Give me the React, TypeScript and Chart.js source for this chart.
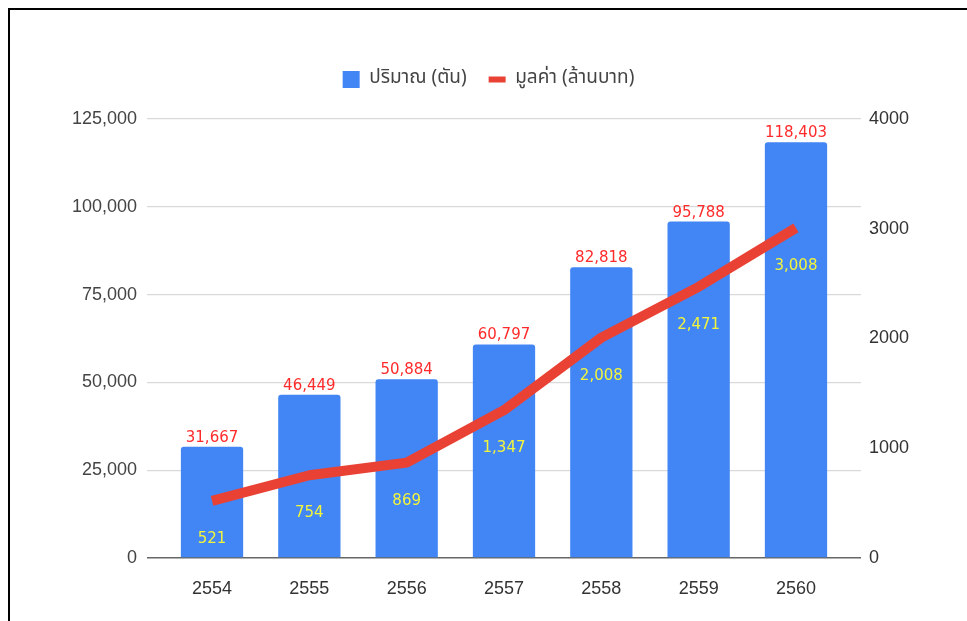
import React, { useEffect, useRef } from 'react';
import { Chart, registerables } from 'chart.js';

Chart.register(...registerables);

const categories = ['2554', '2555', '2556', '2557', '2558', '2559', '2560'];
const quantityTons = [31667, 46449, 50884, 60797, 82818, 95788, 118403];
const valueMillionBaht = [521, 754, 869, 1347, 2008, 2471, 3008];
const leftAxisRange = [0, 125000];
const leftAxisStep = 25000;
const rightAxisRange = [0, 4000];
const rightAxisStep = 1000;
const seriesNames = ['ปริมาณ (ตัน)', 'มูลค่า (ล้านบาท)'];

const BLUE = '#4285f4';
const RED = '#e94235';
const LABEL_RED = '#ff2b2b';
const LABEL_YELLOW = '#f2f53c';
const AXIS_FONT = '"Liberation Sans", Arial, sans-serif';
const LEGEND_FONT = 'Tahoma, "Noto Sans Thai", "Noto Sans", "DejaVu Sans", sans-serif';
const VALUE_FONT = '"DejaVu Sans", Verdana, sans-serif';

const fmt = (v: number) => v.toLocaleString('en-US');

const valueLabels = {
  id: 'valueLabels',
  afterDatasetsDraw(chart: any) {
    const ctx = chart.ctx;
    ctx.save();
    ctx.font = `15px ${VALUE_FONT}`;
    ctx.textAlign = 'center';
    const barMeta = chart.getDatasetMeta(0);
    ctx.fillStyle = LABEL_RED;
    ctx.textBaseline = 'alphabetic';
    barMeta.data.forEach((el: any, i: number) => {
      ctx.fillText(fmt(quantityTons[i]), el.x, el.y - 5);
    });
    const lineMeta = chart.getDatasetMeta(1);
    ctx.fillStyle = LABEL_YELLOW;
    ctx.textBaseline = 'middle';
    lineMeta.data.forEach((el: any, i: number) => {
      ctx.fillText(fmt(valueMillionBaht[i]), el.x, el.y + 38);
    });
    ctx.restore();
  },
};

const legendGap = {
  id: 'legendGap',
  beforeLayout(chart: any) {
    const lg: any = chart.legend;
    if (lg && !lg._gapPatched) {
      const fit = lg.fit;
      lg.fit = function () {
        fit.call(this);
        this.height += 20;
      };
      lg._gapPatched = true;
    }
  },
};

export default function App() {
  const ref = useRef<HTMLCanvasElement | null>(null);

  useEffect(() => {
    if (!ref.current) return;
    const n = categories.length;
    const chart = new Chart(ref.current, {
      type: 'bar',
      data: {
        labels: categories,
        datasets: [
          {
            type: 'bar',
            label: seriesNames[0],
            data: quantityTons.map((v, i) => ({ x: i, y: v })),
            backgroundColor: BLUE,
            borderRadius: 3,
            borderSkipped: 'start',
            categoryPercentage: 0.8,
            barPercentage: 0.8,
            yAxisID: 'y',
            order: 1,
          } as any,
          {
            type: 'line',
            label: seriesNames[1],
            data: valueMillionBaht.map((v, i) => ({ x: i, y: v })),
            borderColor: RED,
            backgroundColor: RED,
            borderWidth: 10,
            borderCapStyle: 'butt',
            borderJoinStyle: 'round',
            pointRadius: 0,
            pointHoverRadius: 0,
            tension: 0,
            yAxisID: 'y1',
            order: 0,
          } as any,
        ],
      },
      options: {
        responsive: false,
        animation: false,
        layout: { padding: { top: 38, left: 0, right: 0, bottom: 0 } },
        plugins: {
          tooltip: { enabled: false },
          legend: {
            display: true,
            position: 'top',
            labels: {
              usePointStyle: true,
              pointStyleWidth: 17,
              boxHeight: 17,
              padding: 22,
              color: '#444',
              font: { family: LEGEND_FONT, size: 19 },
              sort: (a: any, b: any) => a.datasetIndex - b.datasetIndex,
              generateLabels: (c: any) => {
                const items = (Chart as any).defaults.plugins.legend.labels.generateLabels(c);
                return items.map((it: any) =>
                  it.datasetIndex === 1
                    ? { ...it, pointStyle: 'line', lineWidth: 6, strokeStyle: RED, fillStyle: RED, lineCap: 'butt' }
                    : { ...it, pointStyle: 'rect', lineWidth: 0, fillStyle: BLUE, strokeStyle: BLUE }
                );
              },
            },
          },
        },
        scales: {
          x: {
            type: 'linear',
            offset: false,
            min: -0.668,
            max: n - 1 + 0.668,
            grid: { display: false, drawTicks: false, offset: false },
            border: { display: false },
            afterBuildTicks: (axis: any) => {
              axis.ticks = categories.map((_, i) => ({ value: i }));
            },
            afterFit: (axis: any) => {
              axis.height = 63;
            },
            ticks: {
              autoSkip: false,
              maxRotation: 0,
              padding: 20,
              color: '#333',
              font: { family: AXIS_FONT, size: 18 },
              callback: (v: any) => categories[Math.round(Number(v))] ?? '',
            },
          },
          y: {
            position: 'left',
            min: leftAxisRange[0],
            max: leftAxisRange[1],
            grid: {
              drawTicks: false,
              color: (ctx: any) => (ctx.tick && ctx.tick.value === 0 ? '#666' : '#d9d9d9'),
              lineWidth: (ctx: any) => (ctx.tick && ctx.tick.value === 0 ? 1.5 : 1.2),
            },
            border: { display: false },
            afterFit: (axis: any) => {
              axis.width = 137;
            },
            ticks: {
              stepSize: leftAxisStep,
              padding: 10,
              color: '#444',
              font: { family: AXIS_FONT, size: 18 },
              callback: (v: any) => fmt(Number(v)),
            },
          },
          y1: {
            position: 'right',
            min: rightAxisRange[0],
            max: rightAxisRange[1],
            grid: { display: false, drawTicks: false },
            border: { display: false },
            afterFit: (axis: any) => {
              axis.width = 106;
            },
            ticks: {
              stepSize: rightAxisStep,
              padding: 8,
              color: '#333',
              font: { family: AXIS_FONT, size: 18 },
              callback: (v: any) => String(v),
            },
          },
        },
      } as any,
      plugins: [valueLabels, legendGap],
    });
    return () => chart.destroy();
  }, []);

  return (
    <div
      style={{
        position: 'fixed',
        left: 8,
        top: 8,
        width: 959,
        height: 613,
        boxSizing: 'border-box',
        borderTop: '2px solid #000',
        borderLeft: '2px solid #000',
        background: '#fff',
      }}
    >
      <canvas ref={ref} width={957} height={611} style={{ display: 'block', width: 957, height: 611 }} />
    </div>
  );
}
